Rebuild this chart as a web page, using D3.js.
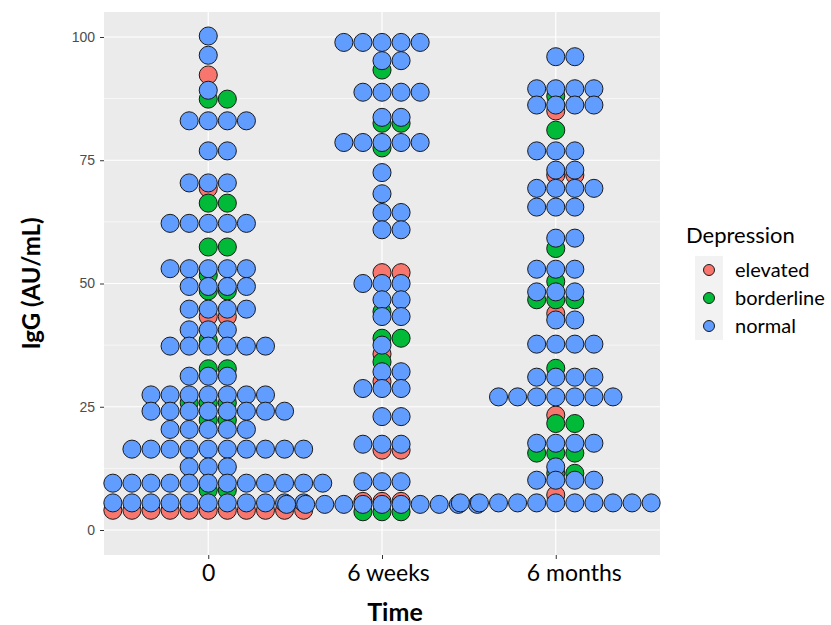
<!DOCTYPE html>
<html>
<head>
<meta charset="utf-8">
<script src="https://cdn.jsdelivr.net/npm/d3@7"></script>
<style>
  body { margin: 0; background: #fff; }
  svg { display: block; }
</style>
</head>
<body>
<div id="chart"></div>
<script>
// categories
const times = ['0', '6 weeks', '6 months'];
const groups = ['elevated', 'borderline', 'normal'];
const yTicks = [0, 25, 50, 75, 100];
const yMinor = [12.5, 37.5, 62.5, 87.5];

// bins: [IgG value, number of dots]
const elevated0 = [[92.3,1],[69.3,1],[43.3,2],[4.0,11]];
const borderline0 = [[87.4,2],[66.3,2],[57.4,2],[51.7,1],[48.5,2],[38.5,1],[32.7,2],[25.8,3],[22.3,2],[8.1,2]];
const normal0 = [[100.2,1],[96.3,1],[89.2,1],[83.0,4],[76.9,2],[70.4,3],[62.2,5],[53.0,5],[49.4,4],
                 [44.8,4],[40.6,3],[37.3,6],[31.2,3],[27.4,7],[24.1,8],[20.4,5],[16.4,10],[12.8,3],[9.5,12],[5.5,11]];

const elevated6w = [[52.2,2],[35.7,1],[30.1,1],[16.2,2],[5.8,3]];
const borderline6w = [[93.3,1],[82.5,2],[77.5,1],[44.3,1],[38.9,2],[34.1,1],[3.7,3]];
const normal6w = [[98.9,5],[95.2,2],[88.8,4],[83.7,2],[78.6,5],[72.5,1],[68.2,1],[64.4,2],[60.9,2],[50.0,3],
                  [46.7,2],[43.3,2],[37.5,1],[32.1,2],[28.7,3],[23.0,2],[17.4,3],[9.8,3],[5.2,11]];

const elevated6m = [[85.0,1],[72.0,2],[43.9,1],[23.3,1],[7.1,1]];
const borderline6m = [[88.0,1],[81.1,1],[57.1,1],[50.4,1],[46.7,3],[32.8,1],[21.6,2],[15.6,3],[11.5,2]];
const normal6m = [[96.0,2],[89.5,4],[86.2,4],[76.9,3],[73.0,2],[69.3,4],[65.5,3],[59.2,2],[52.9,3],[48.3,3],
                  [42.6,2],[37.7,4],[31.0,4],[27.0,7],[17.6,4],[12.8,1],[10.1,4],[5.5,11]];

const binwidth = 3.87;
const colors = d3.scaleOrdinal().domain(groups).range(['#F8766D', '#00BA38', '#619CFF']);

var bins = [
  ['0', 'elevated', elevated0], ['0', 'borderline', borderline0], ['0', 'normal', normal0],
  ['6 weeks', 'elevated', elevated6w], ['6 weeks', 'borderline', borderline6w], ['6 weeks', 'normal', normal6w],
  ['6 months', 'elevated', elevated6m], ['6 months', 'borderline', borderline6m], ['6 months', 'normal', normal6m]
];

// one record per dot, stacked like stackdir = "centerwhole"
var dots = [];
bins.forEach(function(b) {
  b[2].forEach(function(bin) {
    var n = bin[1];
    for (var a = 1; a <= n; a++) {
      dots.push({ time: b[0], group: b[1], value: bin[0], k: a - 1 - Math.floor((n - 1) / 2) });
    }
  });
});

var width = 831, height = 625;
var panel = { left: 104, right: 660, top: 12, bottom: 555 };

var svg = d3.select('#chart').append('svg')
  .attr('width', width)
  .attr('height', height);

var xScale = d3.scalePoint()
  .domain(times)
  .range([panel.left, panel.right])
  .padding(0.6);

var yScale = d3.scaleLinear()
  .domain([-5.07, 105.07])
  .range([panel.bottom, panel.top]);

var diam = yScale(0) - yScale(binwidth);

// panel background + grid
svg.append('rect')
  .attr('x', panel.left).attr('y', panel.top)
  .attr('width', panel.right - panel.left)
  .attr('height', panel.bottom - panel.top)
  .attr('fill', '#EBEBEB');

svg.append('g').selectAll('line')
  .data(yMinor).join('line')
  .attr('x1', panel.left).attr('x2', panel.right)
  .attr('y1', d => yScale(d)).attr('y2', d => yScale(d))
  .attr('stroke', '#fff').attr('stroke-width', 0.6);

svg.append('g').selectAll('line')
  .data(yTicks).join('line')
  .attr('x1', panel.left).attr('x2', panel.right)
  .attr('y1', d => yScale(d)).attr('y2', d => yScale(d))
  .attr('stroke', '#fff').attr('stroke-width', 1.2);

svg.append('g').selectAll('line')
  .data(times).join('line')
  .attr('x1', d => xScale(d)).attr('x2', d => xScale(d))
  .attr('y1', panel.top).attr('y2', panel.bottom)
  .attr('stroke', '#fff').attr('stroke-width', 1.2);

// dots
svg.append('g').selectAll('circle')
  .data(dots).join('circle')
  .attr('cx', d => xScale(d.time) + d.k * diam)
  .attr('cy', d => yScale(d.value))
  .attr('r', diam / 2 - 0.5)
  .attr('fill', d => colors(d.group))
  .attr('stroke', '#1a1a1a')
  .attr('stroke-width', 1);

// axes
var yAxis = svg.append('g')
  .attr('transform', `translate(${panel.left}, 0)`)
  .call(d3.axisLeft(yScale).tickValues(yTicks).tickSize(4).tickPadding(5));
yAxis.select('.domain').remove();
yAxis.selectAll('line').attr('stroke', '#333');
yAxis.selectAll('text')
  .attr('fill', '#4D4D4D')
  .style('font-family', 'Liberation Sans, Arial, sans-serif')
  .style('font-size', '14px');

var xAxis = svg.append('g')
  .attr('transform', `translate(0, ${panel.bottom})`)
  .call(d3.axisBottom(xScale).tickSize(4).tickPadding(6));
xAxis.select('.domain').remove();
xAxis.selectAll('line').attr('stroke', '#333');
// labels in the original sit a little right of the columns
var labelShift = { '0': 0, '6 weeks': 6, '6 months': 18 };
xAxis.selectAll('text')
  .attr('dx', d => labelShift[d])
  .attr('fill', '#000')
  .style('font-family', 'Lato, sans-serif')
  .style('font-size', '23px');

// axis titles
svg.append('text')
  .attr('x', xScale('6 weeks') + 13)
  .attr('y', 621)
  .attr('text-anchor', 'middle')
  .style('font-family', 'Lato, sans-serif')
  .style('font-weight', 'bold')
  .style('font-size', '25px')
  .text('Time');

svg.append('text')
  .attr('transform', `translate(40, ${(panel.top + panel.bottom) / 2}) rotate(-90)`)
  .attr('text-anchor', 'middle')
  .style('font-family', 'Lato, sans-serif')
  .style('font-weight', 'bold')
  .style('font-size', '24px')
  .text('IgG (AU/mL)');

// legend
var legend = svg.append('g').attr('transform', 'translate(686, 0)');
legend.append('text')
  .attr('x', 0).attr('y', 243)
  .style('font-family', 'Lato, sans-serif')
  .style('font-size', '22px')
  .text('Depression');

var keys = legend.selectAll('g.key')
  .data(groups).join('g')
  .attr('class', 'key')
  .attr('transform', (d, i) => `translate(9, ${256 + i * 28})`);
keys.append('rect')
  .attr('width', 28).attr('height', 28)
  .attr('fill', '#F2F2F2');
keys.append('circle')
  .attr('cx', 14).attr('cy', 14).attr('r', 5.5)
  .attr('fill', d => colors(d))
  .attr('stroke', '#1a1a1a');
keys.append('text')
  .attr('x', 40).attr('y', 21)
  .style('font-family', 'Lato, sans-serif')
  .style('font-size', '20px')
  .text(d => d);
</script>
</body>
</html>
